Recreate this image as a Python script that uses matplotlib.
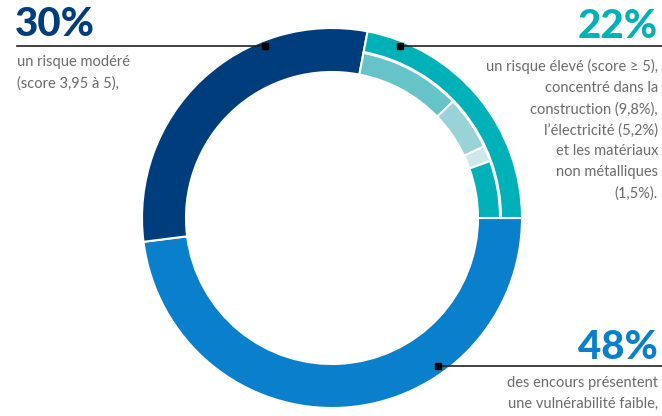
import matplotlib.pyplot as plt

# main split of outstanding loans by risk level (%)
main_labels = ["faible", "modéré", "élevé"]
main_values = [48, 30, 22]
main_colors = ["#0a7fcc", "#003d7c", "#00b1b8"]

# breakdown of the high-risk share by sector (%)
sector_labels = ["construction", "électricité", "matériaux non métalliques", "autres"]
sector_values = [9.8, 5.2, 1.5, 5.5]
sector_colors = ["#66c3c7", "#99d3d8", "#cce8eb", "#00b1b8"]

W, H = 662, 416
fig = plt.figure(figsize=(W / 100, H / 100), dpi=100)
ax = fig.add_axes([0, 0, 1, 1])

cx, cy, R = 332, 198, 190

# outer ring: full width for the low and moderate shares, thin band for the high share
wedges, _ = ax.pie(main_values, colors=main_colors, startangle=0, counterclock=False,
                   radius=R, center=(cx, cy), frame=True,
                   wedgeprops=dict(width=44, edgecolor="white", linewidth=1.5))
wedges[2].set_width(21)

# inner ring: sector detail of the high-risk share, starting where that share starts
start = -360 * (main_values[0] + main_values[1]) / sum(main_values)
total = sum(main_values)
ax.pie(sector_values + [total - sum(sector_values)], colors=sector_colors + ["none"],
       startangle=start, counterclock=False, radius=R - 22, center=(cx, cy), frame=True,
       wedgeprops=dict(width=22, edgecolor="white", linewidth=1.5))
ax.patches[-1].set_edgecolor("none")

ax.set_xlim(0, W)
ax.set_ylim(0, H)
ax.set_aspect("equal")
ax.axis("off")

big = dict(fontsize=29, fontweight="black", family="Lato")
body = dict(fontsize=10.5, color="#6b6b6b", family="Lato", linespacing=1.62)

# 30%
ax.text(15, H - 36, "30%", color="#003d7c", ha="left", va="baseline", **big)
ax.plot([17, 265], [H - 46, H - 46], color="#222222", lw=1.2)
ax.plot(265, H - 46, marker="s", color="black", ms=4.5)
ax.text(17, H - 55, "un risque modéré\n(score 3,95 à 5),", ha="left", va="top", **body)

# 22%
ax.text(658, H - 38, "22%", color="#00b1b8", ha="right", va="baseline", **big)
ax.plot([400, W], [H - 46, H - 46], color="#222222", lw=1.2)
ax.plot(400, H - 46, marker="s", color="black", ms=4.5)
ax.text(658, H - 59,
        "un risque élevé (score ≥ 5),\nconcentré dans la\nconstruction (9,8%),\n"
        "l’électricité (5,2%)\net les matériaux\nnon métalliques\n(1,5%).",
        ha="right", va="top", **body)

# 48%
ax.text(658, H - 359, "48%", color="#0a7fcc", ha="right", va="baseline", **big)
ax.plot([438, W], [H - 366, H - 366], color="#222222", lw=1.2)
ax.plot(438, H - 366, marker="s", color="black", ms=4.5)
ax.text(658, H - 376, "des encours présentent\nune vulnérabilité faible,",
        ha="right", va="top", **body)

fig.savefig("out.png", dpi=100)
